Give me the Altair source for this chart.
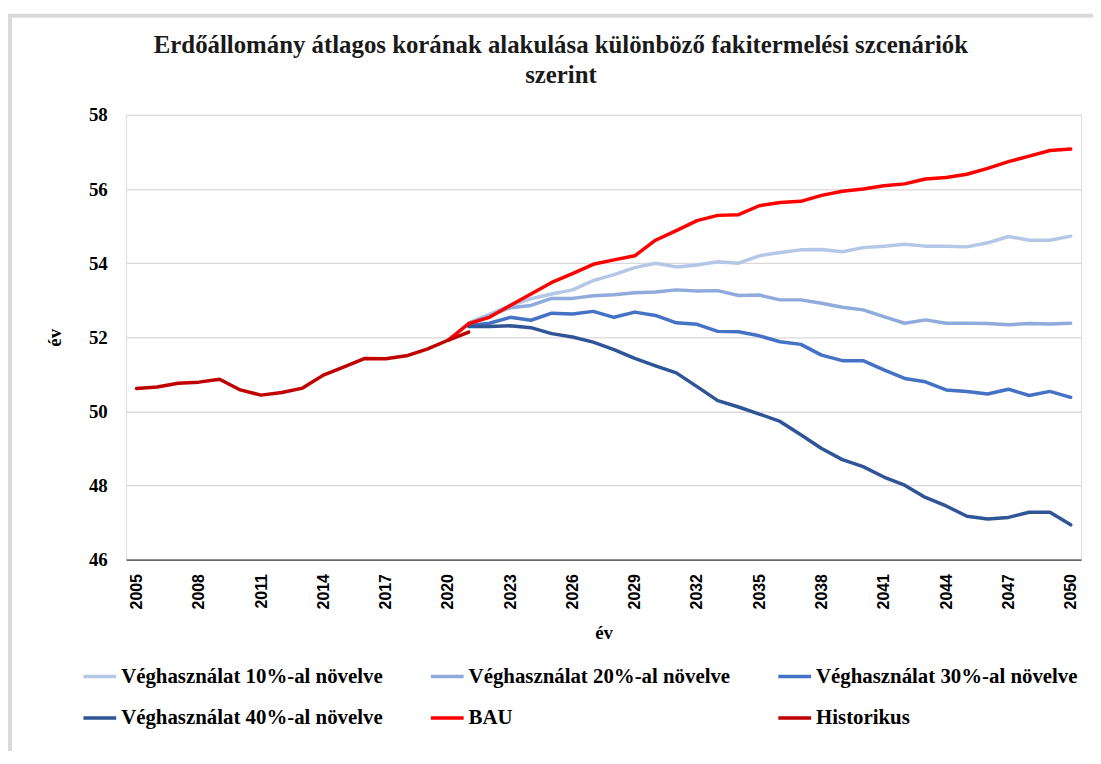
import altair as alt
import pandas as pd

years_hist = list(range(2005, 2022))
hist = [50.62, 50.66, 50.76, 50.79, 50.87, 50.58, 50.44, 50.51, 50.63, 50.98,
        51.20, 51.43, 51.42, 51.50, 51.68, 51.92, 52.14]

years_bau = list(range(2020, 2051))
bau = [51.92, 52.37, 52.54, 52.86, 53.17, 53.48, 53.72, 53.97, 54.09, 54.20,
       54.62, 54.88, 55.15, 55.29, 55.31, 55.55, 55.64, 55.67, 55.83, 55.94,
       56.00, 56.09, 56.14, 56.27, 56.31, 56.40, 56.56, 56.74, 56.89, 57.04, 57.08]

years_scen = list(range(2021, 2051))
s10 = [52.39, 52.62, 52.86, 53.04, 53.17, 53.28, 53.53, 53.69, 53.88, 54.00,
       53.90, 53.95, 54.04, 54.00, 54.20, 54.29, 54.36, 54.37, 54.31, 54.42,
       54.46, 54.51, 54.46, 54.46, 54.44, 54.55, 54.72, 54.62, 54.62, 54.73]
s20 = [52.38, 52.58, 52.80, 52.86, 53.05, 53.05, 53.12, 53.15, 53.20, 53.22,
       53.28, 53.25, 53.26, 53.13, 53.14, 53.01, 53.01, 52.92, 52.81, 52.74,
       52.56, 52.38, 52.47, 52.38, 52.38, 52.37, 52.34, 52.37, 52.36, 52.38]
s30 = [52.32, 52.38, 52.54, 52.46, 52.65, 52.63, 52.70, 52.54, 52.68, 52.59,
       52.39, 52.35, 52.16, 52.15, 52.04, 51.88, 51.81, 51.52, 51.37, 51.37,
       51.12, 50.89, 50.80, 50.58, 50.54, 50.47, 50.60, 50.43, 50.54, 50.38]
s40 = [52.29, 52.29, 52.31, 52.26, 52.10, 52.01, 51.87, 51.67, 51.43, 51.23,
       51.04, 50.67, 50.29, 50.12, 49.93, 49.73, 49.37, 49.00, 48.70, 48.51,
       48.23, 48.01, 47.68, 47.45, 47.17, 47.10, 47.14, 47.28, 47.28, 46.94]

series_names = ["Véghasználat 10%-al növelve", "Véghasználat 20%-al növelve",
                "Véghasználat 30%-al növelve", "Véghasználat 40%-al növelve",
                "BAU", "Historikus"]
series_colors = ["#b4c7e7", "#8faadc", "#4472c4", "#2f5597", "#ff0000", "#c00000"]
x_tick_years = list(range(2005, 2051, 3))
y_ticks = [46, 48, 50, 52, 54, 56, 58]

rows = []
for name, yrs, vals in [
    (series_names[0], years_scen, s10),
    (series_names[1], years_scen, s20),
    (series_names[2], years_scen, s30),
    (series_names[3], years_scen, s40),
    (series_names[4], years_bau, bau),
    (series_names[5], years_hist, hist),
]:
    for y, v in zip(yrs, vals):
        rows.append({"ev": y, "kor": v, "sorozat": name, "ord": series_names.index(name)})
df = pd.DataFrame(rows)

SERIF = "Liberation Serif"

lines = alt.Chart(df).mark_line(strokeWidth=3.5, strokeJoin="round", strokeCap="round").encode(
    x=alt.X("ev:Q",
            scale=alt.Scale(domain=[2004.5, 2050.5], nice=False, zero=False),
            axis=alt.Axis(values=x_tick_years, format="d", labelAngle=270,
                          labelFont="Liberation Sans", labelFontSize=16,
                          labelFontWeight="bold", labelColor="#000000",
                          labelPadding=14, ticks=False, grid=False,
                          domainColor="#404040", domainWidth=1.3,
                          title="év", titleFont=SERIF, titleFontSize=19,
                          titleFontWeight="bold", titleColor="#000000",
                          titleY=73, titleBaseline="middle")),
    y=alt.Y("kor:Q",
            scale=alt.Scale(domain=[46, 58], nice=False, zero=False),
            axis=alt.Axis(values=y_ticks, labelFont=SERIF, labelFontSize=19,
                          labelFontWeight="bold", labelColor="#000000",
                          labelPadding=19, ticks=False, domain=False,
                          gridColor="#d9d9d9", gridWidth=1.3,
                          title="év", titleFont=SERIF, titleFontSize=19,
                          titleFontWeight="bold", titleColor="#000000",
                          titleAngle=270, titleX=-72, titleY=224,
                          titleAlign="center", titleBaseline="middle")),
    color=alt.Color("sorozat:N",
                    scale=alt.Scale(domain=series_names, range=series_colors),
                    sort=series_names,
                    legend=alt.Legend(orient="none", legendX=-45, legendY=547,
                                      direction="horizontal", columns=3, title=None,
                                      symbolType="stroke", symbolSize=1089,
                                      symbolStrokeWidth=3.5, labelOffset=3,
                                      labelFont=SERIF, labelFontSize=21,
                                      labelFontWeight="bold", labelColor="#000000",
                                      labelLimit=400, columnPadding=41,
                                      rowPadding=13)),
    order=alt.Order("ord:Q"),
)

border = alt.Chart(pd.DataFrame({"a": [0]})).mark_rect(
    filled=False, stroke="#d9d9d9", strokeWidth=4
).encode(
    x=alt.value(10 - 127), y=alt.value(13 - 113),
    x2=alt.value(1200), y2=alt.value(800),
)

chart = alt.layer(border, lines).properties(
    width=962, height=448,
    title=alt.TitleParams(
        text=["Erdőállomány átlagos korának alakulása különböző fakitermelési szcenáriók",
              "szerint"],
        font=SERIF, fontSize=25, fontWeight="bold", color="#1a1a1a",
        anchor="middle", dx=-43, offset=-75, lineHeight=30),
    autosize=alt.AutoSizeParams(type="none"),
    padding={"left": 119, "top": 105, "right": 12, "bottom": 190},
).configure_view(stroke=None).configure(background="white")

chart.save("out.html", embed_options={"renderer": "svg", "actions": False})
